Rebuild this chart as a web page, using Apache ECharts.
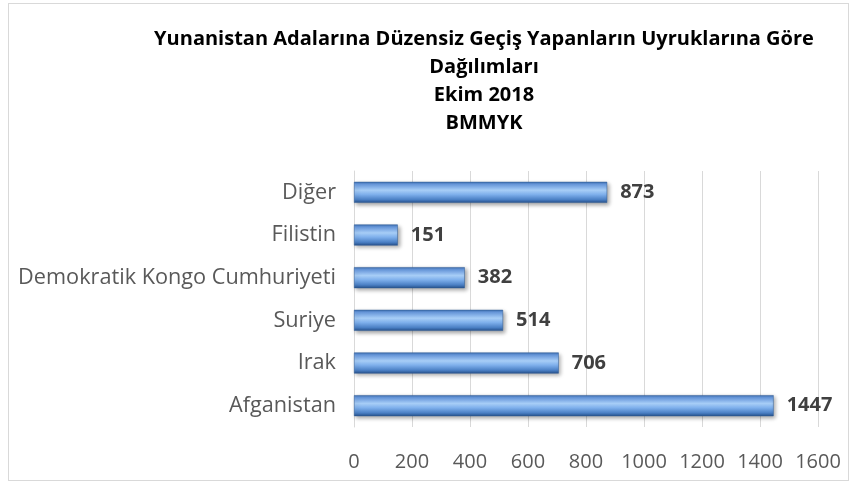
<!DOCTYPE html>
<html>
<head>
<meta charset="utf-8">
<script src="https://cdn.jsdelivr.net/npm/echarts@6/dist/echarts.min.js"></script>
<style>
  html, body { margin: 0; padding: 0; background: #fff; }
  #frame { position: absolute; left: 8px; top: 3px; width: 841px; height: 478px; border: 1px solid #d9d9d9; box-sizing: border-box; }
  #chart { width: 860px; height: 489px; }
</style>
</head>
<body>
<div id="frame"></div>
<div id="chart"></div>
<script>
// kategoriler (alttan üste)
var categories = ["Afganistan", "Irak", "Suriye", "Demokratik Kongo Cumhuriyeti", "Filistin", "Diğer"];
var values = [1447, 706, 514, 382, 151, 873];
var xTicks = [0, 200, 400, 600, 800, 1000, 1200, 1400, 1600];

(function () {
  var myChart = echarts.init(document.getElementById('chart'));
  var option = {
    animation: false,
    title: {
      text: "Yunanistan Adalarına Düzensiz Geçiş Yapanların Uyruklarına Göre\nDağılımları\nEkim 2018\nBMMYK",
      left: 479,
      top: 20,
      textAlign: "center",
      textStyle: {
        fontFamily: "Open Sans",
        fontWeight: "bold",
        fontSize: 20,
        lineHeight: 28,
        color: "#000"
      }
    },
    grid: {
      left: 354,
      right: 42,
      top: 171,
      bottom: 62
    },
    xAxis: {
      type: "value",
      min: xTicks[0],
      max: xTicks[xTicks.length - 1],
      interval: 200,
      axisLine: { show: false },
      axisTick: { show: false },
      axisLabel: {
        color: "#595959",
        fontFamily: "Open Sans",
        fontSize: 20,
        margin: 25,
        formatter: function (v) { return String(v); }
      },
      splitLine: {
        lineStyle: { color: "#d9d9d9", width: 1 }
      }
    },
    yAxis: {
      type: "category",
      data: categories,
      axisLine: { lineStyle: { color: "#d9d9d9" } },
      axisTick: { show: false },
      axisLabel: {
        color: "#595959",
        fontFamily: "Open Sans",
        fontSize: 21.7,
        margin: 18
      }
    },
    series: [
      {
        type: "bar",
        data: values,
        barWidth: 21,
        itemStyle: {
          color: new echarts.graphic.LinearGradient(0, 0, 0, 1, [
            { offset: 0, color: "#3d6eb0" },
            { offset: 0.12, color: "#6a9be0" },
            { offset: 0.4, color: "#a7cdf6" },
            { offset: 0.6, color: "#7fb0ec" },
            { offset: 0.85, color: "#4a7fc4" },
            { offset: 1, color: "#26508a" }
          ]),
          borderColor: "#2e5c97",
          borderWidth: 0.5,
          shadowColor: "rgba(0,0,0,0.35)",
          shadowBlur: 4,
          shadowOffsetX: 2,
          shadowOffsetY: 2
        },
        label: {
          show: true,
          position: "right",
          distance: 13,
          color: "#404040",
          fontFamily: "Open Sans",
          fontWeight: "bold",
          fontSize: 20
        }
      }
    ]
  };
  myChart.setOption(option);
  window.addEventListener("resize", function () {
    myChart.resize();
  });
})();
</script>
</body>
</html>
